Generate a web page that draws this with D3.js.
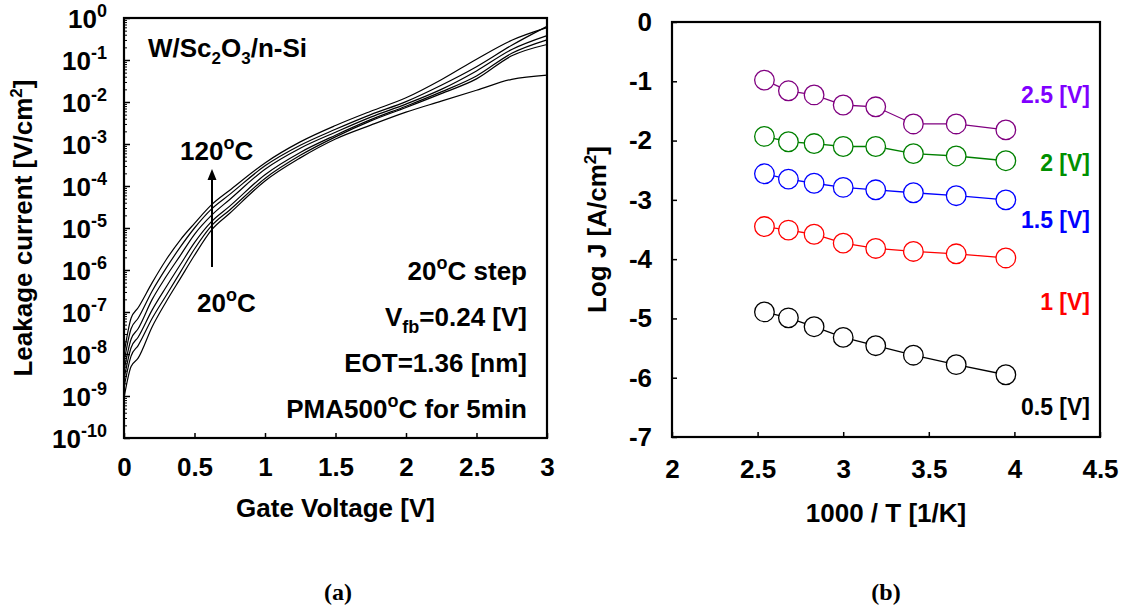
<!DOCTYPE html>
<html><head><meta charset="utf-8">
<script src="https://cdn.jsdelivr.net/npm/d3@7"></script>
<style>
body{margin:0;background:#fff}
svg text{font-family:"Liberation Sans",Arial,sans-serif;font-weight:bold;fill:#000}
</style>
</head><body><svg id="c" width="1126" height="610"></svg>
<script>
// ---------- panel (a) data : log10 of leakage current ----------
const gateVoltage = [0, 0.05, 0.1, 0.2, 0.3, 0.4, 0.5, 0.62, 0.75, 1.0, 1.25, 1.5, 1.75, 2.0, 2.25, 2.5, 2.75, 3.0];
const tempLabels = ["120", "100", "80", "60", "40", "20"];
const logJ120 = [-8.00, -7.15, -6.90, -6.30, -5.75, -5.28, -4.89, -4.45, -4.10, -3.45, -2.95, -2.56, -2.22, -1.90, -1.47, -0.98, -0.53, -0.23];
const logJ100 = [-8.20, -7.40, -7.15, -6.50, -5.95, -5.45, -5.00, -4.55, -4.20, -3.52, -3.03, -2.65, -2.30, -1.99, -1.60, -1.16, -0.65, -0.20];
const logJ80  = [-8.40, -7.65, -7.40, -6.70, -6.15, -5.65, -5.15, -4.70, -4.32, -3.60, -3.10, -2.72, -2.36, -2.05, -1.70, -1.26, -0.75, -0.42];
const logJ60  = [-8.60, -7.85, -7.60, -6.95, -6.40, -5.87, -5.35, -4.85, -4.48, -3.73, -3.20, -2.79, -2.42, -2.10, -1.76, -1.38, -0.84, -0.52];
const logJ40  = [-8.80, -8.05, -7.80, -7.15, -6.60, -6.05, -5.50, -4.95, -4.57, -3.82, -3.27, -2.83, -2.45, -2.13, -1.80, -1.45, -0.90, -0.63];
const logJ20  = [-9.05, -8.30, -8.10, -7.35, -6.75, -6.20, -5.65, -5.05, -4.65, -3.88, -3.33, -2.88, -2.55, -2.24, -1.98, -1.72, -1.46, -1.36];
const yExponents = [0, -1, -2, -3, -4, -5, -6, -7, -8, -9, -10];
const xTicksA = [0, 0.5, 1, 1.5, 2, 2.5, 3];

// ---------- panel (b) data ----------
const invT = [2.54, 2.68, 2.83, 3.00, 3.19, 3.41, 3.66, 3.95];
const logJ_2_5V = [-0.98, -1.16, -1.23, -1.40, -1.43, -1.72, -1.72, -1.82];
const logJ_2V   = [-1.93, -2.02, -2.05, -2.10, -2.10, -2.22, -2.26, -2.34];
const logJ_1_5V = [-2.56, -2.65, -2.72, -2.79, -2.83, -2.88, -2.93, -3.00];
const logJ_1V   = [-3.45, -3.51, -3.58, -3.73, -3.82, -3.87, -3.91, -3.98];
const logJ_0_5V = [-4.89, -4.99, -5.14, -5.32, -5.46, -5.62, -5.78, -5.95];
const biasLabels = ["2.5 [V]", "2 [V]", "1.5 [V]", "1 [V]", "0.5 [V]"];
const xTicksB = [2, 2.5, 3, 3.5, 4, 4.5];
const yTicksB = [0, -1, -2, -3, -4, -5, -6, -7];

const svg = d3.select("#c");
const FS = 26;

// ================= Panel (a) =================
const A = {l:124, r:547, t:18, b:438};
const xA = d3.scaleLinear().domain([0, 3]).range([A.l, A.r]);
const yA = d3.scaleLog().domain([1e-10, 1]).range([A.b, A.t]);

// minor ticks
const minors = [];
for (let e = -10; e < 0; e++) for (let m = 2; m <= 9; m++) minors.push(m * Math.pow(10, e));
svg.append("g").attr("transform", `translate(${A.l},0)`)
  .call(d3.axisLeft(yA).tickValues(minors).tickSize(-3).tickSizeOuter(0).tickFormat(""))
  .call(g => g.select(".domain").remove())
  .selectAll("line").attr("stroke", "#000").attr("stroke-width", 1);
// major ticks
svg.append("g").attr("transform", `translate(${A.l},0)`)
  .call(d3.axisLeft(yA).tickValues(yExponents.map(e => Math.pow(10, e))).tickSize(-6).tickSizeOuter(0).tickFormat(""))
  .call(g => g.select(".domain").remove())
  .selectAll("line").attr("stroke", "#000").attr("stroke-width", 1.5);
// y labels with superscripts
yExponents.forEach(e => {
  const t = svg.append("text").attr("x", 107).attr("y", yA(Math.pow(10, e)) + 9.5)
    .attr("text-anchor", "end").attr("font-size", FS);
  t.append("tspan").text("10");
  t.append("tspan").attr("dy", -11).attr("font-size", 18).text(String(e));
});

// x axis
svg.append("g").attr("transform", `translate(0,${A.b})`)
  .call(d3.axisBottom(xA).tickValues(xTicksA).tickSize(-5).tickSizeOuter(0).tickPadding(20).tickFormat(d => String(d)))
  .call(g => g.select(".domain").remove())
  .call(g => g.selectAll("line").attr("stroke", "#000").attr("stroke-width", 1.5))
  .call(g => g.selectAll("text").attr("font-size", FS).attr("font-family", null));

// curves
const series = [logJ120, logJ100, logJ80, logJ60, logJ40, logJ20];
const lineA = d3.line().x((d, i) => xA(gateVoltage[i])).y(d => yA(Math.pow(10, d))).curve(d3.curveMonotoneX);
svg.append("g").selectAll("path").data(series).join("path")
  .attr("d", lineA).attr("fill", "none").attr("stroke", "#000").attr("stroke-width", 1.2);

// frame
svg.append("rect").attr("x", A.l).attr("y", A.t).attr("width", A.r - A.l).attr("height", A.b - A.t)
  .attr("fill", "none").attr("stroke", "#000").attr("stroke-width", 2.2);

// axis titles
svg.append("text").attr("x", (A.l + A.r) / 2).attr("y", 517).attr("text-anchor", "middle")
  .attr("font-size", FS).text("Gate Voltage [V]");
{
  const t = svg.append("text").attr("transform", `translate(32,${(A.t + A.b) / 2}) rotate(-90)`)
    .attr("text-anchor", "middle").attr("font-size", FS);
  t.append("tspan").text("Leakage current [V/cm");
  t.append("tspan").attr("dy", -10).attr("font-size", 17).text("2");
  t.append("tspan").attr("dy", 10).text("]");
}

// annotations
{
  const t = svg.append("text").attr("x", 148).attr("y", 57).attr("font-size", FS);
  t.append("tspan").text("W/Sc");
  t.append("tspan").attr("dy", 7).attr("font-size", 17).text("2");
  t.append("tspan").attr("dy", -7).text("O");
  t.append("tspan").attr("dy", 7).attr("font-size", 17).text("3");
  t.append("tspan").attr("dy", -7).text("/n-Si");
}
function degText(x, y, pre, post, anchor) {
  const t = svg.append("text").attr("x", x).attr("y", y).attr("font-size", FS).attr("text-anchor", anchor || "start");
  t.append("tspan").text(pre);
  t.append("tspan").attr("dy", -11).attr("font-size", 18).text("o");
  t.append("tspan").attr("dy", 11).text(post);
  return t;
}
degText(180, 160, "120", "C");
degText(197, 312, "20", "C");
// arrow
svg.append("line").attr("x1", 212).attr("x2", 212).attr("y1", 267).attr("y2", 178).attr("stroke", "#000").attr("stroke-width", 2);
svg.append("path").attr("d", "M212,169 L207.5,180 L216.5,180 Z").attr("fill", "#000");

degText(527, 280, "20", "C step", "end");
{
  const t = svg.append("text").attr("x", 527).attr("y", 326).attr("font-size", FS).attr("text-anchor", "end");
  t.append("tspan").text("V");
  t.append("tspan").attr("dy", 7).attr("font-size", 18).text("fb");
  t.append("tspan").attr("dy", -7).text("=0.24 [V]");
}
svg.append("text").attr("x", 527).attr("y", 372).attr("font-size", FS).attr("text-anchor", "end").text("EOT=1.36 [nm]");
degText(527, 418, "PMA500", "C for 5min", "end");

// ================= Panel (b) =================
const B = {l:672, r:1100, t:22, b:437};
const xB = d3.scaleLinear().domain([2, 4.5]).range([B.l, B.r]);
const yB = d3.scaleLinear().domain([-7, 0]).range([B.b, B.t]);

svg.append("g").attr("transform", `translate(0,${B.b})`)
  .call(d3.axisBottom(xB).tickValues(xTicksB).tickSize(-5).tickSizeOuter(0).tickPadding(23).tickFormat(d => String(d)))
  .call(g => g.select(".domain").remove())
  .call(g => g.selectAll("line").attr("stroke", "#000").attr("stroke-width", 1.5))
  .call(g => g.selectAll("text").attr("font-size", FS).attr("font-family", null));
svg.append("g").attr("transform", `translate(${B.l},0)`)
  .call(d3.axisLeft(yB).tickValues(yTicksB).tickSize(-5).tickSizeOuter(0).tickPadding(20).tickFormat(d => String(d)))
  .call(g => g.select(".domain").remove())
  .call(g => g.selectAll("line").attr("stroke", "#000").attr("stroke-width", 1.5))
  .call(g => g.selectAll("text").attr("font-size", FS).attr("font-family", null));

const bSeries = [
  {v: logJ_2_5V, c: "#800080", lc: "#7f00ff", lab: biasLabels[0], ly: 95},
  {v: logJ_2V,   c: "#008000", lc: "#009000", lab: biasLabels[1], ly: 163},
  {v: logJ_1_5V, c: "#0000ff", lc: "#0000ff", lab: biasLabels[2], ly: 220},
  {v: logJ_1V,   c: "#ff0000", lc: "#ff0000", lab: biasLabels[3], ly: 302},
  {v: logJ_0_5V, c: "#000000", lc: "#000000", lab: biasLabels[4], ly: 407}
];
const lineB = d3.line().x((d, i) => xB(invT[i])).y(d => yB(d));
bSeries.forEach(s => {
  svg.append("path").attr("d", lineB(s.v)).attr("fill", "none").attr("stroke", s.c).attr("stroke-width", 1.3);
  svg.append("g").selectAll("circle").data(s.v).join("circle")
    .attr("cx", (d, i) => xB(invT[i])).attr("cy", d => yB(d)).attr("r", 9.8)
    .attr("fill", "#fff").attr("stroke", s.c).attr("stroke-width", 1.3);
  svg.append("text").attr("x", 1090).attr("y", s.ly + 8).attr("text-anchor", "end")
    .attr("font-size", 23).style("fill", s.lc).text(s.lab);
});

svg.append("rect").attr("x", B.l).attr("y", B.t).attr("width", B.r - B.l).attr("height", B.b - B.t)
  .attr("fill", "none").attr("stroke", "#000").attr("stroke-width", 2.2);

svg.append("text").attr("x", (B.l + B.r) / 2).attr("y", 522).attr("text-anchor", "middle")
  .attr("font-size", FS).text("1000 / T [1/K]");
{
  const t = svg.append("text").attr("transform", `translate(606,${(B.t + B.b) / 2}) rotate(-90)`)
    .attr("text-anchor", "middle").attr("font-size", FS);
  t.append("tspan").text("Log J [A/cm");
  t.append("tspan").attr("dy", -10).attr("font-size", 17).text("2");
  t.append("tspan").attr("dy", 10).text("]");
}

// captions
svg.append("text").attr("x", 338).attr("y", 600).attr("text-anchor", "middle").attr("font-size", 24)
  .style("font-family", "'Liberation Serif','Times New Roman',serif").text("(a)");
svg.append("text").attr("x", 886).attr("y", 600).attr("text-anchor", "middle").attr("font-size", 24)
  .style("font-family", "'Liberation Serif','Times New Roman',serif").text("(b)");
</script>
</body></html>
